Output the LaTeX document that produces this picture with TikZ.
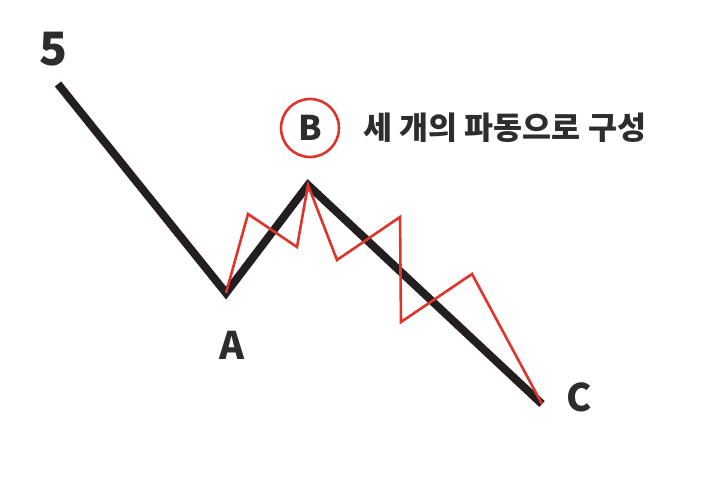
\documentclass[tikz,border=0pt]{standalone}
\usepackage{fontspec}
\usepackage{xcolor}
\usepackage{tikz}
\usetikzlibrary{positioning}
\newfontfamily\krfont{Noto Sans CJK KR}
\definecolor{WaveBlack}{RGB}{35,31,32}
\definecolor{WaveRed}{RGB}{222,52,44}
\definecolor{TagDark}{RGB}{45,45,45}

\begin{document}
\begin{tikzpicture}[x=1pt,y=-1pt,
  mainwave/.style={WaveBlack,line width=8pt,line join=miter},
  subwave/.style={WaveRed,line width=2.6pt,line join=miter},
  ptlabel/.style={text=TagDark,font=\krfont\bfseries\fontsize{38}{38}\selectfont}]
  \useasboundingbox (0,0) rectangle (702,485);
  \coordinate (W5) at (58,84);
  \coordinate (A) at (226,293);
  \coordinate (B) at (308,185);
  \coordinate (C) at (542,404);
  \coordinate (r1) at (248,214);
  \coordinate (r2) at (297,247);
  \coordinate (r3) at (337,260);
  \coordinate (r4) at (400,217);
  \coordinate (r5) at (401,322);
  \coordinate (r6) at (472,274);
  \draw[mainwave] (W5) -- (A) -- (B) -- (C);
  \draw[subwave] (A) -- (r1) -- (r2) -- (B) -- (r3) -- (r4) -- (r5) -- (r6) -- (C);
  \node[ptlabel,font=\krfont\bfseries\fontsize{46}{46}\selectfont] (l5) at (54,49) {5};
  \node[ptlabel] (lA) at (232,345) {A};
  \node[ptlabel] (lC) at (579,397) {C};
  \node[ptlabel,circle,draw=WaveRed,line width=2.6pt,minimum size=58pt,inner sep=0pt,
        font=\krfont\bfseries\fontsize{34}{34}\selectfont] (lB) at (310,128) {B};
  \node[text=TagDark,anchor=west,font=\krfont\bfseries\fontsize{31.5}{31.5}\selectfont]
        (desc) at (360,128) {세 개의 파동으로 구성};
\end{tikzpicture}
\end{document}
